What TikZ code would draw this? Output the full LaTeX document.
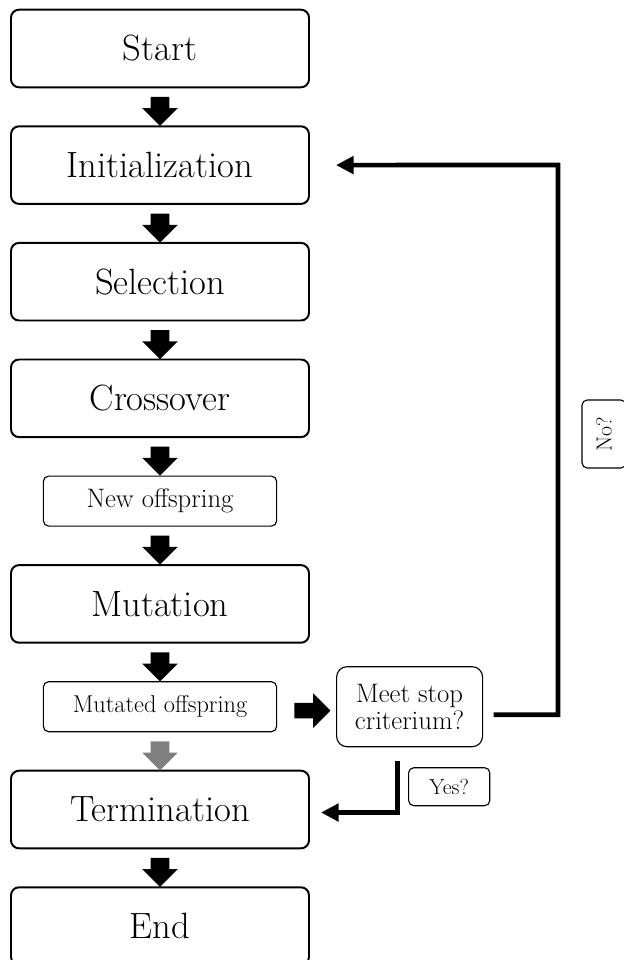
\documentclass[tikz,border=0pt]{standalone}
\usetikzlibrary{arrows.meta,positioning,shapes.arrows,calc}

\begin{document}
\begin{tikzpicture}[auto, node distance=0.975cm, >={Triangle[length=0.44cm,width=0.43cm]}]
	\tikzset{block/.style= {draw, rectangle, rounded corners=0.2cm, line width=1.4pt, outer sep=0pt, align=center, minimum width=7.45cm, minimum height=1.94cm, font=\fontsize{26}{31}\selectfont},
		sblock/.style={draw, rectangle, rounded corners=0.13cm, line width=0.8pt, outer sep=0pt, align=center, minimum width=5.83cm, minimum height=1.25cm, font=\fontsize{19}{22}\selectfont},
		rblock/.style={draw, rectangle, rounded corners=0.26cm, line width=0.8pt, outer sep=0pt, align=center, minimum width=3.65cm, minimum height=2cm, font=\fontsize{19}{19.5}\selectfont},
		lblock/.style={draw, rectangle, rounded corners=0.13cm, line width=0.8pt, outer sep=0pt, align=center, font=\fontsize{15.5}{18}\selectfont},
		darrow/.style={single arrow, fill=black, inner sep=0.225cm, shape border rotate=270, minimum height=0.725cm, minimum width=0.875cm, single arrow head extend=0.2125cm, single arrow head indent=0pt},
		rarrow/.style={single arrow, fill=black, inner sep=0.1875cm, minimum height=0.9cm, minimum width=0.85cm, single arrow head extend=0.2375cm, single arrow head indent=0pt},
		loopline/.style={draw, line width=3.3pt, ->}
	}
	\useasboundingbox (0,0) rectangle (15.6,-24);

	\node [block] (start) at (4,-1.2125) {Start};
	\node [block, below=of start] (init) {Initialization};
	\node [block, below=of init] (selection) {Selection};
	\node [block, below=of selection] (crossover) {Crossover};
	\node [sblock, below=of crossover] (offspring) {New offspring};
	\node [block, below=of offspring] (mutation) {Mutation};
	\node [sblock, font=\fontsize{17.3}{20}\selectfont, below=of mutation] (mutated) {Mutated offspring};
	\node [block, below=of mutated] (termination) {Termination};
	\node [block, below=of termination] (finish) {End};

	\node [rblock, right=1.5cm of mutated] (stopcheck) {Meet stop\\criterium?};
	\node [lblock, minimum width=2.03cm, minimum height=0.95cm, below=0.525cm of stopcheck, xshift=0.99cm] (yes) {Yes?};
	\node [lblock, rotate=90, minimum width=1.7cm, minimum height=1.1cm] (no) at (15.1,-10.85) {No?};
	\coordinate (back) at (13.95,-4.125);

	% block arrows between the steps
	\node [darrow] (a1) at ($(start.south)!0.5!(init.north)$) {};
	\node [darrow] (a2) at ($(init.south)!0.5!(selection.north)$) {};
	\node [darrow] (a3) at ($(selection.south)!0.5!(crossover.north)$) {};
	\node [darrow] (a4) at ($(crossover.south)!0.5!(offspring.north)$) {};
	\node [darrow] (a5) at ($(offspring.south)!0.5!(mutation.north)$) {};
	\node [darrow] (a6) at ($(mutation.south)!0.5!(mutated.north)$) {};
	\node [darrow, fill=gray] (a7) at ($(mutated.south)!0.5!(termination.north)$) {};
	\node [darrow] (a8) at ($(termination.south)!0.5!(finish.north)$) {};
	\node [rarrow, xshift=0.05cm, yshift=-0.1cm] (a9) at ($(mutated.east)!0.5!(stopcheck.west)$) {};

	\path[loopline] ([xshift=0.275cm,yshift=-0.2cm]stopcheck.east) -| (back) -- ([xshift=0.675cm]init.east);
	\path[loopline] ([xshift=-0.3cm,yshift=-0.35cm]stopcheck.south) |- ([xshift=0.3cm,yshift=-0.075cm]termination.east);

\end{tikzpicture}
\end{document}
